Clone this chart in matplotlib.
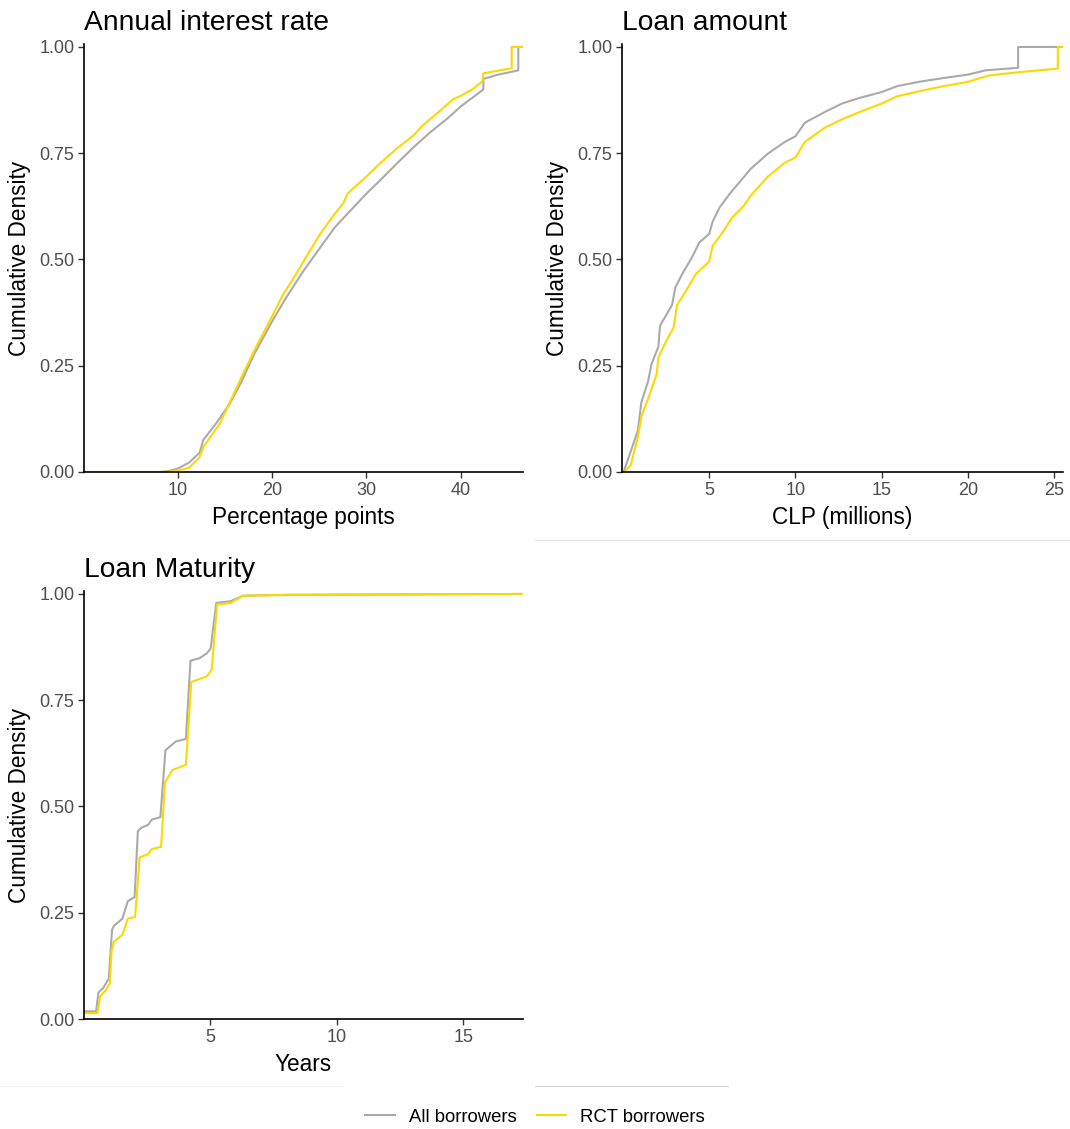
import matplotlib
matplotlib.use('Agg')
import matplotlib.pyplot as plt
from matplotlib.lines import Line2D

plt.rcParams['font.family'] = ['Liberation Sans', 'DejaVu Sans']

# ---------------- data ----------------
# Annual interest rate (percentage points)
rate_x_all = [0, 8.0, 9.0, 10.0, 11.2, 12.3, 12.5, 12.7, 14.1, 15.5, 16.7, 18.1, 20.0, 21.4, 23.3, 25.1,
              26.7, 28.4, 30.0, 31.3, 33.1, 35.0, 36.8, 38.6, 40.0, 41.5, 42.4, 42.4, 44.0, 46.1, 46.1, 46.6]
rate_y_all = [0, 0, 0.002, 0.008, 0.022, 0.045, 0.058, 0.075, 0.115, 0.16, 0.21, 0.277, 0.354, 0.407, 0.472, 0.528,
              0.577, 0.617, 0.655, 0.683, 0.723, 0.764, 0.80, 0.832, 0.86, 0.885, 0.90, 0.925, 0.935, 0.945, 1.0, 1.0]
rate_x_rct = [0, 8.5, 10.0, 11.2, 12.3, 12.7, 14.5, 16.7, 18.1, 20.0, 21.1, 22.5, 24.0, 25.1, 26.4, 27.6,
              28.0, 30.0, 31.3, 33.1, 35.0, 36.0, 37.5, 39.2, 40.0, 41.2, 42.3, 42.4, 45.4, 45.4, 46.6]
rate_y_rct = [0, 0, 0.003, 0.01, 0.034, 0.058, 0.115, 0.22, 0.285, 0.366, 0.415, 0.464, 0.52, 0.56, 0.60, 0.634,
              0.655, 0.695, 0.723, 0.759, 0.792, 0.816, 0.844, 0.877, 0.885, 0.90, 0.919, 0.938, 0.95, 1.0, 1.0]

# Loan amount (CLP millions)
amount_x_all = [0.04, 0.47, 0.87, 1.07, 1.46, 1.66, 2.06, 2.15, 2.85, 3.04, 3.44, 4.03, 4.43, 5.0, 5.2, 5.6,
                6.2, 6.8, 7.4, 8.4, 9.4, 10.0, 10.55, 11.7, 12.7, 13.7, 15.0, 15.9, 17.3, 18.6, 20.0, 21.0,
                22.9, 22.9, 25.5]
amount_y_all = [0, 0.05, 0.098, 0.164, 0.213, 0.254, 0.295, 0.344, 0.393, 0.434, 0.466, 0.507, 0.54, 0.56, 0.589, 0.622,
                0.655, 0.684, 0.713, 0.749, 0.777, 0.79, 0.822, 0.847, 0.867, 0.88, 0.894, 0.908, 0.919, 0.927, 0.935, 0.945,
                0.951, 1.0, 1.0]
amount_x_rct = [0.1, 0.45, 0.87, 1.07, 1.46, 1.95, 2.06, 2.45, 2.94, 3.14, 3.64, 4.23, 5.0, 5.2, 5.8, 6.3,
                7.0, 7.4, 8.4, 9.4, 10.0, 10.55, 11.7, 12.7, 13.9, 15.0, 15.9, 17.3, 18.6, 20.0, 21.2, 23.0,
                25.2, 25.2, 25.5]
amount_y_rct = [0, 0.016, 0.082, 0.131, 0.172, 0.229, 0.27, 0.303, 0.34, 0.393, 0.425, 0.466, 0.495, 0.532, 0.565, 0.597,
                0.626, 0.65, 0.695, 0.728, 0.74, 0.777, 0.81, 0.83, 0.85, 0.867, 0.884, 0.897, 0.908, 0.918, 0.933, 0.941,
                0.949, 1.0, 1.0]

# Loan maturity (years)
mat_x_all = [0, 0.48, 0.57, 0.77, 0.98, 1.11, 1.18, 1.52, 1.73, 2.0, 2.13, 2.27, 2.54, 2.68, 3.02, 3.22,
             3.63, 4.03, 4.21, 4.57, 4.85, 5.01, 5.23, 5.8, 6.3, 8.2, 17.36]
mat_y_all = [0.018, 0.018, 0.062, 0.074, 0.095, 0.21, 0.219, 0.236, 0.277, 0.287, 0.442, 0.45, 0.457, 0.469, 0.475, 0.632,
             0.653, 0.659, 0.843, 0.849, 0.86, 0.872, 0.979, 0.983, 0.996, 0.998, 1.0]
mat_x_rct = [0, 0.53, 0.64, 0.84, 1.02, 1.09, 1.18, 1.52, 1.73, 2.02, 2.2, 2.54, 2.68, 3.05, 3.2, 3.5,
             4.03, 4.24, 4.85, 5.05, 5.26, 5.8, 6.3, 8.2, 17.36]
mat_y_rct = [0.014, 0.014, 0.054, 0.066, 0.083, 0.16, 0.182, 0.198, 0.236, 0.24, 0.38, 0.388, 0.40, 0.405, 0.557, 0.586,
             0.598, 0.793, 0.806, 0.822, 0.975, 0.979, 0.996, 0.998, 1.0]

y_ticks = [0, 0.25, 0.5, 0.75, 1.0]
y_ticklabels = ['0.00', '0.25', '0.50', '0.75', '1.00']

GRAY = '#aaaaaa'
GOLD = '#ffd700'

W, H = 1070, 1129
fig = plt.figure(figsize=(W / 100, H / 100), dpi=100)


def make_axes(left, right, top, bottom):
    return fig.add_axes([left / W, 1 - bottom / H, (right - left) / W, (bottom - top) / H])


def style(ax, title, xlabel, xlim, xticks):
    ax.set_xlim(*xlim)
    ax.set_ylim(0, 1.007)
    ax.set_xticks(xticks)
    ax.set_yticks(y_ticks)
    ax.set_yticklabels(y_ticklabels)
    for s in ['top', 'right']:
        ax.spines[s].set_visible(False)
    for s in ['left', 'bottom']:
        ax.spines[s].set_linewidth(1.2)
        ax.spines[s].set_color('black')
    ax.tick_params(length=4, width=1, color='#333333', labelsize=13, labelcolor='#4d4d4d', pad=3)
    ax.set_title(title, loc='left', fontsize=20.3, pad=10)
    ax.set_xlabel(xlabel, fontsize=16.3, labelpad=5)
    ax.set_ylabel('Cumulative Density', fontsize=16.3, labelpad=6)


ax1 = make_axes(84, 523, 44, 472)
ax1.plot(rate_x_all, rate_y_all, color=GRAY, lw=1.5)
ax1.plot(rate_x_rct, rate_y_rct, color=GOLD, lw=1.5)
style(ax1, 'Annual interest rate', 'Percentage points', (0.07, 46.6), [10, 20, 30, 40])

ax2 = make_axes(622, 1063, 44, 472)
ax2.plot(amount_x_all, amount_y_all, color=GRAY, lw=1.5)
ax2.plot(amount_x_rct, amount_y_rct, color=GOLD, lw=1.5)
style(ax2, 'Loan amount', 'CLP (millions)', (-0.05, 25.5), [5, 10, 15, 20, 25])

ax3 = make_axes(84, 523, 591, 1019)
ax3.plot(mat_x_all, mat_y_all, color=GRAY, lw=1.5)
ax3.plot(mat_x_rct, mat_y_rct, color=GOLD, lw=1.5)
style(ax3, 'Loan Maturity', 'Years', (0, 17.36), [5, 10, 15])

# faint separator lines between the stitched panels
fig.add_artist(Line2D([535 / W, 1], [1 - 540 / H] * 2, color='#e3e3e3', lw=0.8))
fig.add_artist(Line2D([0, 343 / W], [1 - 1086 / H] * 2, color='#f2f2f2', lw=0.8))
fig.add_artist(Line2D([535 / W, 728 / W], [1 - 1086 / H] * 2, color='#d4d4d4', lw=0.8))

handles = [Line2D([], [], color=GRAY, lw=1.5), Line2D([], [], color=GOLD, lw=1.5)]
fig.legend(handles, ['All borrowers', 'RCT borrowers'], loc='center', ncol=2,
           bbox_to_anchor=(0.5, 1 - 1117 / H), frameon=False, fontsize=13.3,
           handlelength=1.6, handletextpad=0.75, columnspacing=1.1)

fig.savefig('out.png', dpi=100)
